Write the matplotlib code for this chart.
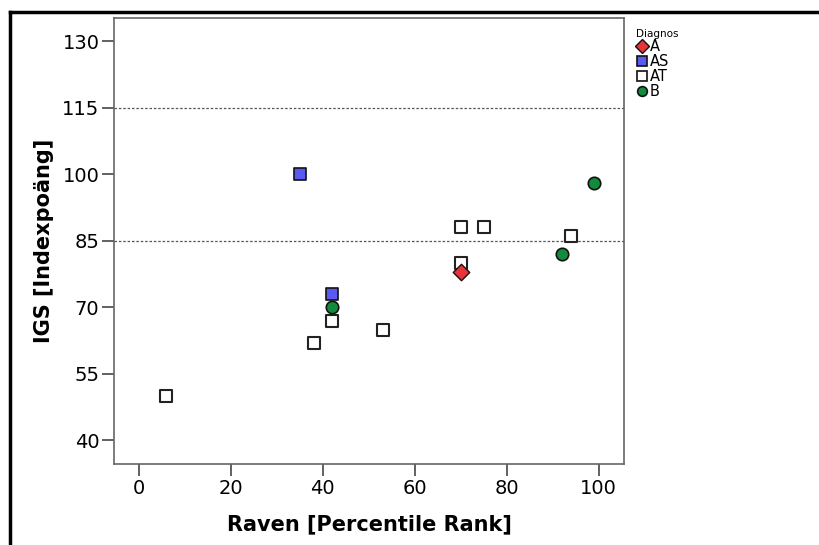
import matplotlib
matplotlib.use("Agg")
import matplotlib.pyplot as plt
from matplotlib.lines import Line2D

# data
groups = ["A", "AS", "AT", "B"]
a_raven = [70]
a_igs = [78]
as_raven = [35, 42]
as_igs = [100, 73]
at_raven = [6, 38, 42, 53, 70, 70, 75, 94]
at_igs = [50, 62, 67, 65, 88, 80, 88, 86]
b_raven = [42, 92, 99]
b_igs = [70, 82, 98]
ref_lines = [85, 115]
x_ticks = [0, 20, 40, 60, 80, 100]
y_ticks = [40, 55, 70, 85, 100, 115, 130]

plt.rcParams['font.family'] = ['DejaVu Sans']

fig = plt.figure(figsize=(8.19, 5.45), dpi=100)
ax = fig.add_axes([114/819, 1-464/545, (624-114)/819, (464-18)/545])

for y in ref_lines:
    ax.axhline(y, color='#555555', lw=0.9, ls=(0, (2, 1.5)), zorder=1)

ax.scatter(at_raven, at_igs, marker='s', s=70, facecolor='white', edgecolor='#222222', linewidth=1.5, zorder=3)
ax.scatter(as_raven, as_igs, marker='s', s=70, facecolor='#5a5af0', edgecolor='#111111', linewidth=1.2, zorder=3)
ax.scatter(b_raven, b_igs, marker='o', s=80, facecolor='#138a3c', edgecolor='#111111', linewidth=1.2, zorder=3)
ax.scatter(a_raven, a_igs, marker='D', s=70, facecolor='#e8333a', edgecolor='#111111', linewidth=1.0, zorder=4)

ax.set_xlim(-5.4, 105.5)
ax.set_ylim(34.7, 135.2)
ax.set_xticks(x_ticks)
ax.set_yticks(y_ticks)
ax.tick_params(direction='out', length=8.5, width=1.3, color='#555555', labelsize=14, pad=2)
for s in ax.spines.values():
    s.set_color('#666666')
    s.set_linewidth(1.2)

ax.set_xlabel("Raven [Percentile Rank]", fontsize=15, fontweight='bold', labelpad=12)
ax.set_ylabel("IGS [Indexpoäng]", fontsize=15, fontweight='bold', labelpad=6)

handles = [
    Line2D([], [], ls='none', marker='D', ms=7.5, mfc='#e8333a', mec='#111111', mew=1.0),
    Line2D([], [], ls='none', marker='s', ms=7, mfc='#5a5af0', mec='#111111', mew=1.2),
    Line2D([], [], ls='none', marker='s', ms=7, mfc='white', mec='#222222', mew=1.3),
    Line2D([], [], ls='none', marker='o', ms=7, mfc='#138a3c', mec='#111111', mew=1.2),
]
leg = fig.legend(handles, groups, title="Diagnos", loc='upper left',
                 bbox_to_anchor=(626/819, 1-19/545), frameon=False,
                 fontsize=10.5, title_fontsize=7.5, handlelength=0.8,
                 handletextpad=0.15, labelspacing=0.0, borderpad=0.2)
leg._legend_box.align = "left"

# outer frame (top and left edges)
fig.add_artist(Line2D([10/819, 1], [1-12/545, 1-12/545], color='black', lw=2.5))
fig.add_artist(Line2D([10/819, 10/819], [0, 1-12/545], color='black', lw=2.5))

fig.savefig("out.png", dpi=100)
